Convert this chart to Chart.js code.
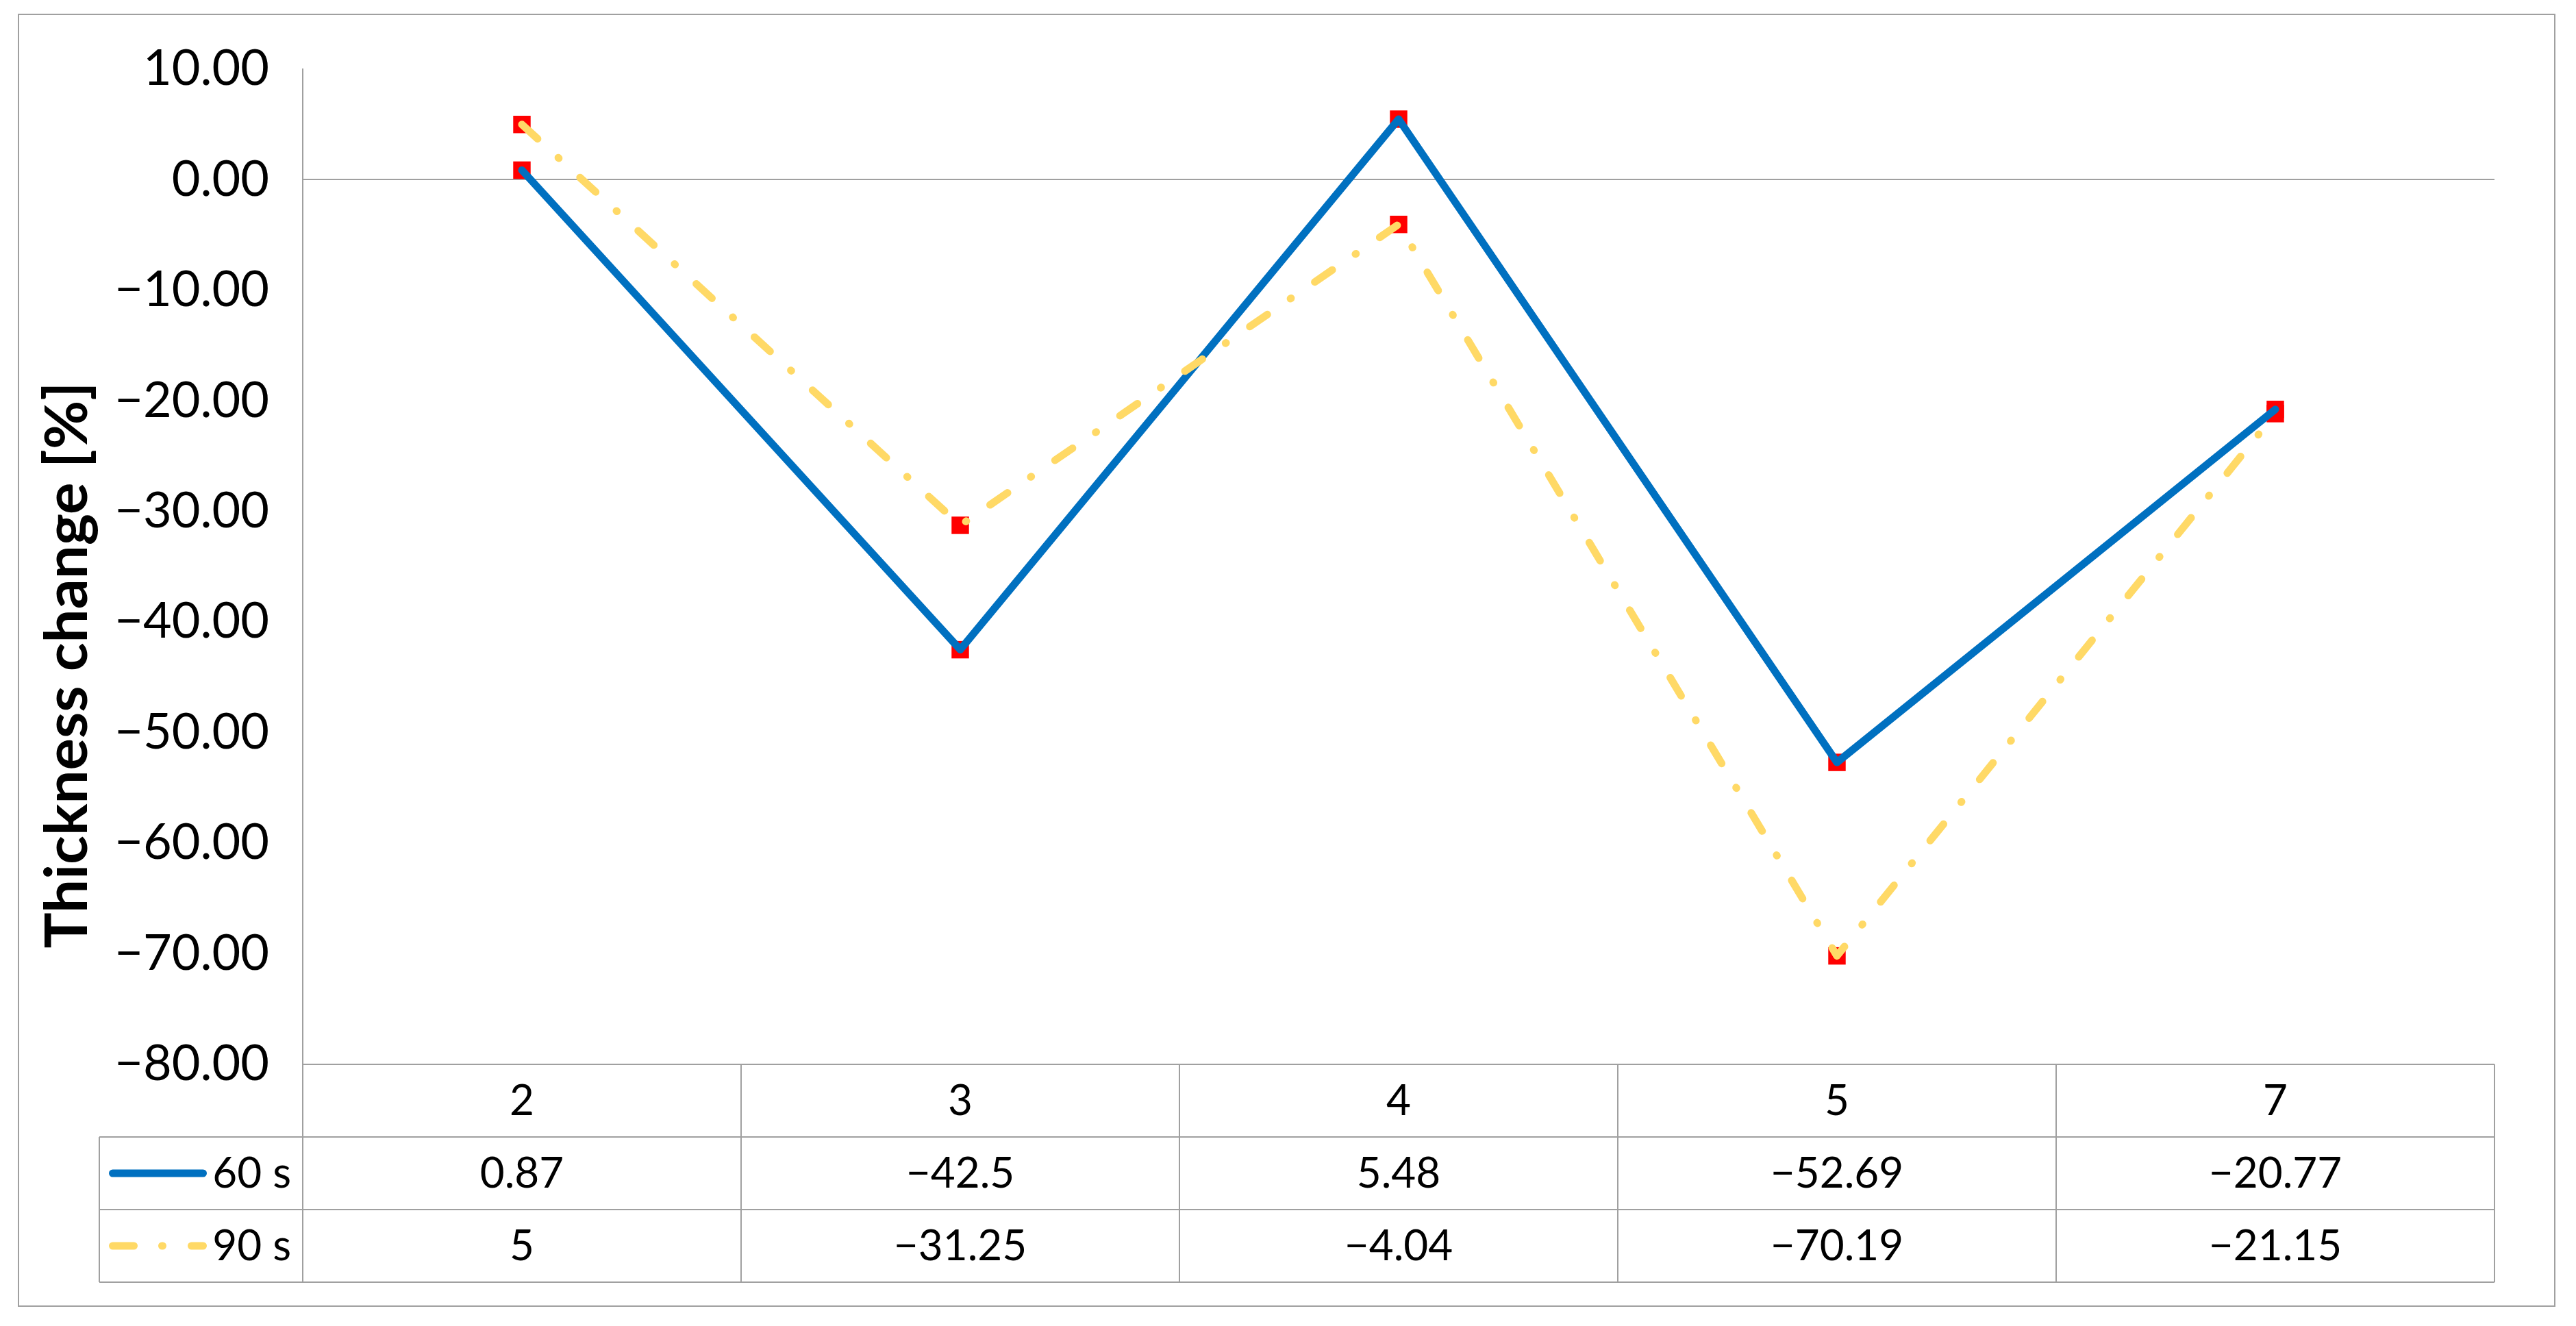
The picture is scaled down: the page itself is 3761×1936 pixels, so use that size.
<!DOCTYPE html>
<html>
<head>
<meta charset="utf-8">
<script src="https://cdn.jsdelivr.net/npm/chart.js@4.4.1/dist/chart.umd.min.js"></script>
<style>
  html, body { margin: 0; padding: 0; background: #fff; }
  canvas { display: block; }
</style>
</head>
<body>
<canvas id="chart-espesor" width="3761" height="1936"></canvas>
<script>
const categorias = ['2', '3', '4', '5', '7'];
const serie60 = [0.87, -42.5, 5.48, -52.69, -20.77];
const serie90 = [5, -31.25, -4.04, -70.19, -21.15];
const nombresSeries = ['60 s', '90 s'];
const ticksY = [10, 0, -10, -20, -30, -40, -50, -60, -70, -80];
const tituloY = 'Thickness change [%]';

const AZUL = '#0070C0';
const AMARILLO = '#FFD966';
const ROJO = '#FF0000';
const GRIS = '#A0A0A0';
const FUENTE = 'Lato, "Open Sans", sans-serif';
const DASH_90 = [31, 41, 1, 42];

const conMenos = (txt) => txt.replace('-', '\u2212');

const tablaDatos = {
    id: 'tablaDatos',
    afterDraw(chart) {
        const { ctx, chartArea: area, scales: { x } } = chart;
        const banda = x.getPixelForValue(1) - x.getPixelForValue(0);
        const altoFila = 106;
        const izqLeyenda = 145;
        const arriba = area.bottom;
        const abajo = arriba + altoFila * 3;

        ctx.save();
        ctx.strokeStyle = GRIS;
        ctx.lineWidth = 2;
        ctx.beginPath();
        ctx.moveTo(area.left, arriba);
        ctx.lineTo(area.right, arriba);
        for (let f = 1; f <= 3; f++) {
            ctx.moveTo(izqLeyenda, arriba + altoFila * f);
            ctx.lineTo(area.right, arriba + altoFila * f);
        }
        ctx.moveTo(izqLeyenda, arriba + altoFila);
        ctx.lineTo(izqLeyenda, abajo);
        for (let c = 0; c <= categorias.length; c++) {
            const px = area.left + banda * c;
            ctx.moveTo(px, arriba);
            ctx.lineTo(px, abajo);
        }
        ctx.stroke();

        // texto de la tabla
        ctx.fillStyle = '#000';
        ctx.font = `62px ${FUENTE}`;
        ctx.textAlign = 'center';
        ctx.textBaseline = 'alphabetic';
        const filasValores = [serie60, serie90];
        categorias.forEach((cat, i) => {
            const cx = x.getPixelForValue(i);
            ctx.fillText(cat, cx, arriba + 74);
            filasValores.forEach((serie, f) => {
                ctx.fillText(conMenos(String(serie[i])), cx, arriba + altoFila * (f + 1) + 74);
            });
        });

        // leyenda dentro de la tabla
        ctx.textAlign = 'right';
        nombresSeries.forEach((nombre, f) => {
            const top = arriba + altoFila * (f + 1);
            ctx.fillText(nombre, area.left - 17, top + 74);
            const ly = top + 53;
            ctx.save();
            ctx.lineWidth = 11;
            ctx.lineCap = 'round';
            ctx.strokeStyle = f === 0 ? AZUL : AMARILLO;
            ctx.setLineDash(f === 0 ? [] : DASH_90);
            ctx.beginPath();
            ctx.moveTo(164.5, ly);
            ctx.lineTo(296.5, ly);
            ctx.stroke();
            ctx.restore();
        });

        // titulo eje Y
        ctx.save();
        ctx.translate(127, 971);
        ctx.rotate(-Math.PI / 2);
        ctx.font = `bold 87px ${FUENTE}`;
        ctx.textAlign = 'center';
        ctx.fillText(tituloY, 0, 0);
        ctx.restore();

        // borde exterior
        ctx.strokeStyle = GRIS;
        ctx.lineWidth = 2;
        ctx.strokeRect(27, 21, 3703, 1886);
        ctx.restore();
    }
};

const ctxEspesor = document.getElementById('chart-espesor').getContext('2d');
const chartEspesor = new Chart(ctxEspesor, {
    type: 'line',
    data: {
        labels: categorias,
        datasets: [
            {
                label: nombresSeries[0],
                data: serie60,
                borderColor: AZUL,
                borderWidth: 11,
                borderJoinStyle: 'round',
                borderCapStyle: 'round',
                pointRadius: 0,
                tension: 0,
                order: 1
            },
            {
                label: nombresSeries[1],
                data: serie90,
                borderColor: AMARILLO,
                borderWidth: 11,
                borderDash: DASH_90,
                borderJoinStyle: 'round',
                borderCapStyle: 'round',
                pointRadius: 0,
                tension: 0,
                order: 0
            },
            {
                label: 'marcas 60',
                data: serie60,
                showLine: false,
                pointStyle: 'rect',
                pointRadius: 18,
                pointBackgroundColor: ROJO,
                pointBorderWidth: 0,
                order: 2
            },
            {
                label: 'marcas 90',
                data: serie90,
                showLine: false,
                pointStyle: 'rect',
                pointRadius: 18,
                pointBackgroundColor: ROJO,
                pointBorderWidth: 0,
                order: 2
            }
        ]
    },
    options: {
        responsive: false,
        animation: false,
        layout: { padding: { left: 0, top: 101, right: 119, bottom: 382 } },
        plugins: { legend: { display: false }, tooltip: { enabled: false } },
        scales: {
            x: { display: false, offset: true },
            y: {
                min: -80,
                max: 10,
                afterBuildTicks: (scale) => { scale.ticks = ticksY.map(v => ({ value: v })); },
                afterFit: (scale) => { scale.width = 442; },
                border: { display: true, color: GRIS, width: 2 },
                grid: {
                    drawTicks: false,
                    lineWidth: 2,
                    color: (c) => (c.tick && c.tick.value === 0 ? GRIS : 'rgba(0,0,0,0)')
                },
                ticks: {
                    padding: 49,
                    color: '#000',
                    font: { family: FUENTE, size: 72 },
                    callback: (v) => conMenos(Number(v).toFixed(2))
                }
            }
        }
    },
    plugins: [tablaDatos]
});
</script>
</body>
</html>
